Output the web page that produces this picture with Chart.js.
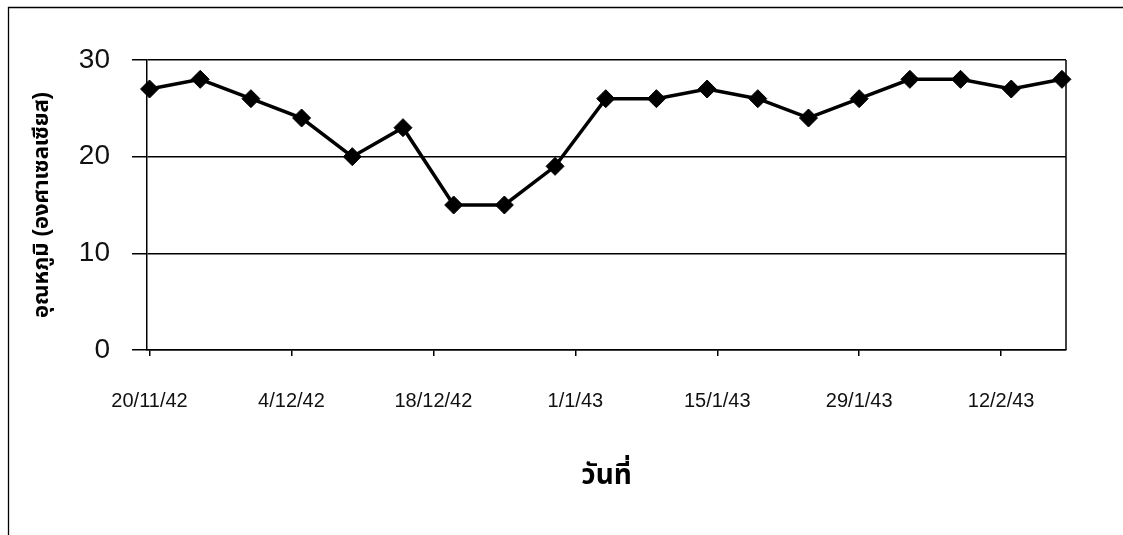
<!DOCTYPE html>
<html>
<head>
<meta charset="utf-8">
<script src="https://cdn.jsdelivr.net/npm/chart.js@4"></script>
<style>
  html, body { margin: 0; padding: 0; background: #fff; }
  #wrap { width: 1123px; height: 535px; }
</style>
</head>
<body>
<div id="wrap"><canvas id="myChart" width="1123" height="535"></canvas></div>
<script>
// ข้อมูลกราฟ: วันที่นับจาก 20/11/42 และอุณหภูมิ
var days = [0, 5, 10, 15, 20, 25, 30, 35, 40, 45, 50, 55, 60, 65, 70, 75, 80, 85, 90];
var temps = [27, 28, 26, 24, 20, 23, 15, 15, 19, 26, 26, 27, 26, 24, 26, 28, 28, 27, 28];

// ป้ายแกน x
var tickDays = [0, 14, 28, 42, 56, 70, 84];
var tickLabels = ['20/11/42', '4/12/42', '18/12/42', '1/1/43', '15/1/43', '29/1/43', '12/2/43'];

var yTicks = [0, 10, 20, 30];

var thaiFont = 'Arial, "Liberation Sans", "Noto Sans Thai", "Noto Sans", Garuda, Loma, sans-serif';

// กรอบของพื้นที่กราฟ และกรอบนอกของรูป
var framePlugin = {
    id: 'frame',
    afterDraw: function(chart) {
        var ctx = chart.ctx;
        var a = chart.chartArea;
        ctx.save();
        ctx.strokeStyle = '#000';
        ctx.lineWidth = 1.5;
        ctx.beginPath();
        ctx.moveTo(a.right, a.top);
        ctx.lineTo(a.right, a.bottom);
        ctx.stroke();
        ctx.lineWidth = 1.3;
        ctx.beginPath();
        ctx.moveTo(8.5, 535);
        ctx.lineTo(8.5, 7.5);
        ctx.lineTo(1123, 7.5);
        ctx.stroke();
        ctx.restore();
    }
};

var ctx = document.getElementById('myChart').getContext('2d');
var myChart = new Chart(ctx, {
    type: 'line',
    data: {
        datasets: [{
            data: days.map(function(d, i) { return { x: d, y: temps[i] }; }),
            borderColor: '#000',
            backgroundColor: '#000',
            borderWidth: 3.5,
            pointStyle: 'rectRot',
            pointRadius: 9,
            pointBackgroundColor: '#000',
            pointBorderColor: '#000',
            pointBorderWidth: 1,
            tension: 0,
            clip: false
        }]
    },
    options: {
        responsive: false,
        animation: false,
        events: [],
        layout: { padding: { left: 8, top: 60, right: 57, bottom: 0 } },
        plugins: {
            legend: { display: false },
            tooltip: { enabled: false }
        },
        scales: {
            x: {
                type: 'linear',
                min: -0.25,
                max: 90.4,
                afterBuildTicks: function(axis) {
                    axis.ticks = tickDays.map(function(v) { return { value: v }; });
                },
                afterFit: function(axis) { axis.height = 185; },
                ticks: {
                    autoSkip: false,
                    maxRotation: 0,
                    padding: 33,
                    color: '#111',
                    font: { family: 'Arial, "Liberation Sans", sans-serif', size: 20 },
                    callback: function(value) {
                        var i = tickDays.indexOf(value);
                        return i >= 0 ? tickLabels[i] : '';
                    }
                },
                grid: {
                    drawOnChartArea: false,
                    drawTicks: true,
                    tickLength: 6,
                    color: '#000',
                    lineWidth: 1.5
                },
                border: { display: true, color: '#000', width: 1.5 },
                title: {
                    display: true,
                    text: 'วันที่',
                    color: '#000',
                    font: { family: thaiFont, size: 28, weight: 'bold' },
                    padding: { top: 0, bottom: 42 }
                }
            },
            y: {
                min: 0,
                max: 30,
                afterBuildTicks: function(axis) {
                    axis.ticks = yTicks.map(function(v) { return { value: v }; });
                },
                afterFit: function(axis) { axis.width = 139; },
                ticks: {
                    padding: 22,
                    color: '#111',
                    font: { family: 'Arial, "Liberation Sans", sans-serif', size: 28 }
                },
                grid: {
                    color: '#000',
                    lineWidth: 1.5,
                    tickLength: 15
                },
                border: { display: true, color: '#000', width: 1.5 },
                title: {
                    display: true,
                    text: 'อุณหภูมิ (องศาเซลเซียส)',
                    color: '#000',
                    font: { family: thaiFont, size: 22, weight: 'bold' },
                    padding: { top: 21, bottom: 0 }
                }
            }
        }
    },
    plugins: [framePlugin]
});
</script>
</body>
</html>
